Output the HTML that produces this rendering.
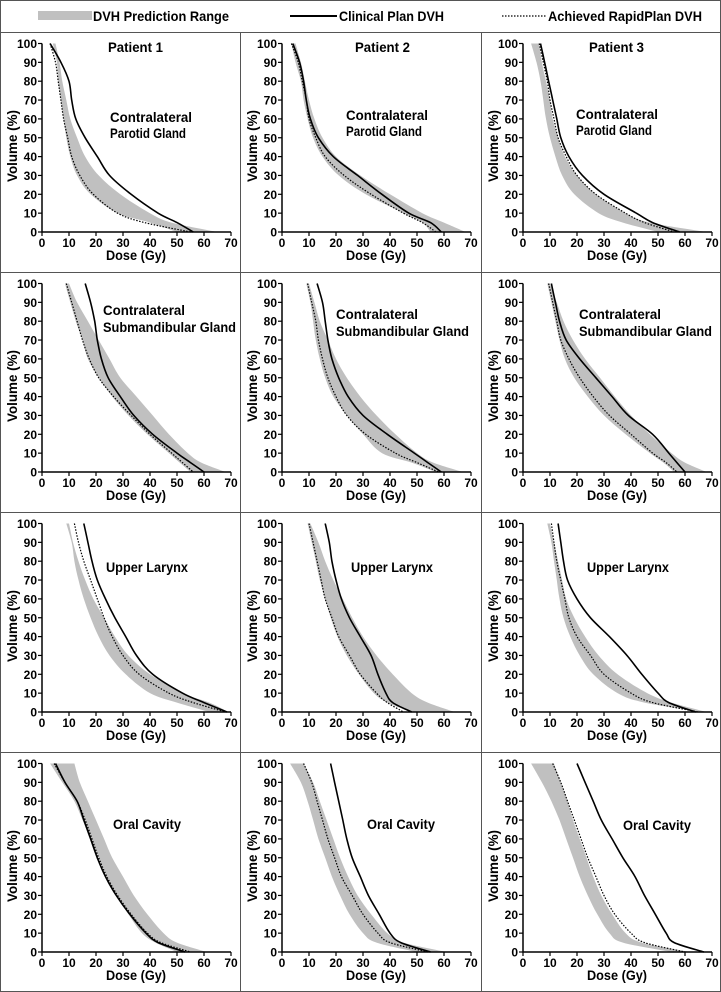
<!DOCTYPE html>
<html><head><meta charset="utf-8"><style>
html,body{margin:0;padding:0;background:#fff}
svg{display:block;font-family:"Liberation Sans",sans-serif;font-weight:bold}
</style></head><body>
<svg id="fig" width="721" height="992" viewBox="0 0 721 992" xmlns="http://www.w3.org/2000/svg">
<rect x="0.5" y="0.5" width="720" height="991" fill="#fff" stroke="#555" stroke-width="1"/>
<g>
<rect x="38" y="11" width="54" height="9" fill="#c0c0c0"/>
<text x="93" y="21" font-size="14" textLength="136" lengthAdjust="spacingAndGlyphs">DVH Prediction Range</text>
<line x1="290" y1="16" x2="337" y2="16" stroke="#000" stroke-width="2"/>
<text x="339" y="21" font-size="14" textLength="105" lengthAdjust="spacingAndGlyphs">Clinical Plan DVH</text>
<line x1="502" y1="16" x2="546" y2="16" stroke="#000" stroke-width="1.3" stroke-dasharray="1.5,1.5"/>
<text x="548" y="21" font-size="14" textLength="154" lengthAdjust="spacingAndGlyphs">Achieved RapidPlan DVH</text>
</g>
</svg>
<script>
const volumes = [100,90,80,70,60,50,40,30,20,10,5,0];
const xTicks = [0,10,20,30,40,50,60,70];
const yTicks = [0,10,20,30,40,50,60,70,80,90,100];

// Row 1: contralateral parotid
const par1Clin = [3,7,10,11,12.5,16,20.5,25,33,43,50,56];
const par1Dot = [3,5,6,7,8,9.5,11,14,19,28,38,55];
const par1Lo = [4,5.5,6,7,8,9,10.5,13,18,28,40,50];
const par1Hi = [5,6.5,7.5,9,10.5,13,16,21,29,40,48,65];
const par2Clin = [4,6.5,8,9,10.5,13.5,19,28,37,47,55,59];
const par2Dot = [3.5,6,7.5,9,10,12.5,16,23,33,45,52,57];
const par2Lo = [3.5,5,7,8,9.5,11.5,15,21,31,45,52,55];
const par2Hi = [5,7,8.5,10,12,15,20,29,40,52,60,68];
const par3Clin = [6.5,8,9.5,11,12.5,14,17,22,30,42,48,58];
const par3Dot = [6,7.5,9,10,11.5,13,16,20,27,38,45,56];
const par3Lo = [3,5,6.5,7.5,8.5,10,12,14.5,19,28,37,50];
const par3Hi = [6,7,8.5,10,11,13,15.5,20,27,38,47,68];
// Row 2: contralateral submandibular
const sub1Clin = [16,18,19.5,20.5,22,24.5,29,34,41,50,55,60];
const sub1Dot = [9,11,13,15,17.5,21,26.5,33,40,48,52,56];
const sub1Lo = [8.5,10.5,12.5,15,17,21,26,32,39,47,51,55];
const sub1Hi = [10,13,17,21,25,29,35,41,47,54,59,68];
const sub2Clin = [13,15,16,17,18.5,21,24.5,30,39,49,54,59];
const sub2Dot = [9.5,11,12.5,13.5,15,17,20,24,31,42,50,58];
const sub2Lo = [9,10.5,11.5,12.5,14,16,19,24,30,37,48,57];
const sub2Hi = [10,12,14,17,20,24,29,35,42,50,56,67];
const sub3Clin = [10.5,12,13.5,16,21,27,33,39,48,54,57,60];
const sub3Dot = [9.5,11,12.5,14,17,21,26,32,40,48,53,57];
const sub3Lo = [9,10.5,12,13.5,15.5,19,24,30,38,47,52,56];
const sub3Hi = [10,12.5,15,18.5,23,28.5,34,40,47,55,60,68];
// Row 3: upper larynx
const lar1Clin = [15.5,17,18.5,20.5,23.5,27,31,35,41,52,60,68.5];
const lar1Dot = [12,13.5,15.5,18,20.5,23,26,30,36,47,56,68];
const lar1Lo = [9,11,12,13.5,15.5,18,21,25,31,40,50,62];
const lar1Hi = [10,11.5,13.5,16,19,23,27,32,40,52,62,69];
const lar2Clin = [16,17.5,18.5,20,22,25,29,33,35.5,38.5,41,48];
const lar2Dot = [10,11.5,13,14.5,16,18.5,21,25,29,35,39,45];
const lar2Lo = [9.5,11,12.5,14,16,18,20.5,24,28.5,34,39,48];
const lar2Hi = [10.5,13.5,16,19,22.5,26,30,35,41,48,54,64];
const lar3Clin = [13,14,15,16.5,20,25,32,38.5,44,50,54,64];
const lar3Dot = [10.5,11.5,12.5,14,15.5,17,20,25,30,40,48,65];
const lar3Lo = [9,10.5,11.5,12.5,13.5,15,17.5,21,26,35,45,66];
const lar3Hi = [10,11.5,13,14.5,16,19,23,28,35,46,55,68];
// Row 4: oral cavity
const ora1Clin = [5,8.5,13,15.5,18,20.5,23.5,27.5,32.5,38.5,43,53];
const ora1Dot = [4.5,8.5,13,16,18.5,21,24,28,33,39,44,55];
const ora1Lo = [3,7.5,12,15,18,21,24,27.5,32,37,42,50];
const ora1Hi = [12,14,17,20,23,26,30,34,39,45,50,61];
const ora2Clin = [18,19.5,21,22.5,24,26,29,32,36,40,44,55];
const ora2Dot = [8,11,13,15,17,19.5,22,26,30,35.5,40,54];
const ora2Lo = [3,7,9.5,11.5,13.5,16,18.5,21.5,25,30,35,50];
const ora2Hi = [8,11.5,14,16.5,19,21.5,24.5,28,33,39,45,61];
const ora3Clin = [20,23,26,29,33,37,41.5,45,49,53,56,67];
const ora3Dot = [11,14,16.5,19,21.5,24,27,30,34,40,45,60];
const ora3Lo = [3,7,10.5,13.5,16,18.5,21,24,27.5,32,37,55];
const ora3Hi = [11.5,14,16.5,18.5,21,23.5,26,29,33,38,44,62];

const NS = 'http://www.w3.org/2000/svg';
const svg = document.getElementById('fig');
function mk(tag, attrs, parent){const e=document.createElementNS(NS,tag);for(const k in attrs)e.setAttribute(k,attrs[k]);(parent||svg).appendChild(e);return e;}

// Catmull-Rom smoothing through points
function smooth(pts, start){
  let d = start ? 'M'+pts[0][0].toFixed(1)+','+pts[0][1].toFixed(1) : 'L'+pts[0][0].toFixed(1)+','+pts[0][1].toFixed(1);
  for(let i=0;i<pts.length-1;i++){
    const p0=pts[Math.max(i-1,0)], p1=pts[i], p2=pts[i+1], p3=pts[Math.min(i+2,pts.length-1)];
    const c1=[p1[0]+(p2[0]-p0[0])/6, p1[1]+(p2[1]-p0[1])/6];
    const c2=[p2[0]-(p3[0]-p1[0])/6, p2[1]-(p3[1]-p1[1])/6];
    d+='C'+c1[0].toFixed(1)+','+c1[1].toFixed(1)+' '+c2[0].toFixed(1)+','+c2[1].toFixed(1)+' '+p2[0].toFixed(1)+','+p2[1].toFixed(1);
  }
  return d;
}

[32,272,512,752].forEach(y=>{
  const l=mk('line',{x1:0,y1:y+0.5,x2:721,y2:y+0.5,stroke:'#555','stroke-width':1});
  
  
});
[240,481].forEach(x=>{
  const l=mk('line',{x1:x+0.5,y1:32,x2:x+0.5,y2:992,stroke:'#555','stroke-width':1});
  
  
});

const panels = [
 {c:0,r:0,clin:par1Clin,dot:par1Dot,lo:par1Lo,hi:par1Hi,title:'Patient 1',tx:108,lab:[['Contralateral',110,90,82],['Parotid Gland',110,106,76]]},
 {c:1,r:0,clin:par2Clin,dot:par2Dot,lo:par2Lo,hi:par2Hi,title:'Patient 2',tx:115,lab:[['Contralateral',106,88,82],['Parotid Gland',106,104,76]]},
 {c:2,r:0,clin:par3Clin,dot:par3Dot,lo:par3Lo,hi:par3Hi,title:'Patient 3',tx:108,lab:[['Contralateral',95,87,82],['Parotid Gland',95,103,76]]},
 {c:0,r:1,clin:sub1Clin,dot:sub1Dot,lo:sub1Lo,hi:sub1Hi,lab:[['Contralateral',103,43,82],['Submandibular Gland',103,60,133]]},
 {c:1,r:1,clin:sub2Clin,dot:sub2Dot,lo:sub2Lo,hi:sub2Hi,lab:[['Contralateral',96,47,82],['Submandibular Gland',96,64,133]]},
 {c:2,r:1,clin:sub3Clin,dot:sub3Dot,lo:sub3Lo,hi:sub3Hi,lab:[['Contralateral',98,47,82],['Submandibular Gland',98,64,133]]},
 {c:0,r:2,clin:lar1Clin,dot:lar1Dot,lo:lar1Lo,hi:lar1Hi,lab:[['Upper Larynx',106,60,82]]},
 {c:1,r:2,clin:lar2Clin,dot:lar2Dot,lo:lar2Lo,hi:lar2Hi,lab:[['Upper Larynx',111,60,82]]},
 {c:2,r:2,clin:lar3Clin,dot:lar3Dot,lo:lar3Lo,hi:lar3Hi,lab:[['Upper Larynx',106,60,82]]},
 {c:0,r:3,clin:ora1Clin,dot:ora1Dot,lo:ora1Lo,hi:ora1Hi,lab:[['Oral Cavity',113,77,68]]},
 {c:1,r:3,clin:ora2Clin,dot:ora2Dot,lo:ora2Lo,hi:ora2Hi,lab:[['Oral Cavity',127,77,68]]},
 {c:2,r:3,clin:ora3Clin,dot:ora3Dot,lo:ora3Lo,hi:ora3Hi,lab:[['Oral Cavity',142,78,68]]}
];
const colX=[0,240,481], rowY=[32,272,512,752];

panels.forEach((p,i)=>{
  const ox=colX[p.c], oy=rowY[p.r];
  const X=d=>ox+42+d*(189/70);
  const Y=v=>oy+200-v*(188.5/100);
  const g=mk('g',{});
  
  
  const loPts=p.lo.map((d,k)=>[X(d),Y(volumes[k])]);
  const hiPts=p.hi.map((d,k)=>[X(d),Y(volumes[k])]).reverse();
  const band=mk('path',{d:smooth(loPts,true)+smooth(hiPts,false)+'Z',fill:'#c0c0c0',stroke:'none'},g);
  
  
  const line=(arr,attrs,name)=>{
    const pts=arr.map((v,k)=>[X(v),Y(volumes[k])]);
    const e=mk('path',Object.assign({d:smooth(pts,true),fill:'none'},attrs),g);
    
    
  };
  line(p.dot,{stroke:'#000','stroke-width':1.2,'stroke-dasharray':'1.5,1.5'},'rapidplan-dvh-line');
  line(p.clin,{stroke:'#000','stroke-width':1.6},'clinical-dvh-line');
  const ax=mk('path',{d:'M'+X(0)+','+Y(100)+'L'+X(0)+','+Y(0)+'L'+X(70)+','+Y(0),stroke:'#000','stroke-width':1.5,fill:'none'},g);
  
  
  yTicks.forEach(v=>{
    const t=mk('line',{x1:X(0)-4,y1:Y(v),x2:X(0),y2:Y(v),stroke:'#000','stroke-width':1.2},g);
    
    
    const l=mk('text',{x:X(0)-5,y:Y(v)+4.5,'font-size':12,'text-anchor':'end'},g);
    l.textContent=v;
    
    
  });
  xTicks.forEach(v=>{
    const t=mk('line',{x1:X(v),y1:Y(0),x2:X(v),y2:Y(0)+4,stroke:'#000','stroke-width':1.2},g);
    
    
    const l=mk('text',{x:X(v),y:oy+215,'font-size':12,'text-anchor':'middle'},g);
    l.textContent=v;
    
    
  });
  const xt=mk('text',{x:ox+136,y:oy+228,'font-size':14,'text-anchor':'middle',textLength:60,lengthAdjust:'spacingAndGlyphs'},g);
  xt.textContent='Dose (Gy)';
  
  
  const yt=mk('text',{x:0,y:0,'font-size':14,'text-anchor':'middle',textLength:72,lengthAdjust:'spacingAndGlyphs',transform:'translate('+(ox+17)+','+(oy+114)+') rotate(-90)'},g);
  yt.textContent='Volume (%)';
  
  
  if(p.title){
    const tt=mk('text',{x:ox+p.tx,y:oy+20,'font-size':14,textLength:55,lengthAdjust:'spacingAndGlyphs'},g);
    tt.textContent=p.title;
    
    
  }
  p.lab.forEach(a=>{
    const t=mk('text',{x:ox+a[1],y:oy+a[2],'font-size':14,textLength:a[3],lengthAdjust:'spacingAndGlyphs'},g);
    t.textContent=a[0];
    
    
  });
});
</script>
</body></html>
